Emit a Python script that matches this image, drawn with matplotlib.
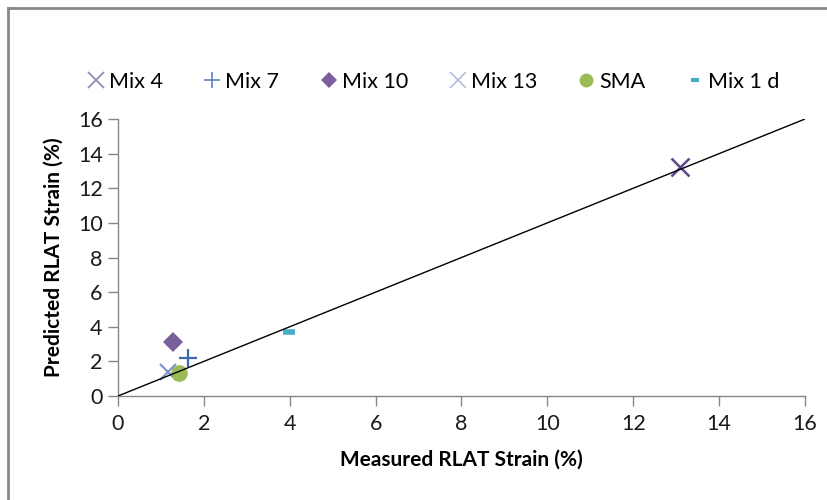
import matplotlib
matplotlib.use("Agg")
import matplotlib.pyplot as plt
from matplotlib.lines import Line2D

plt.rcParams['font.family'] = ['Lato', 'DejaVu Sans']

# Measured vs predicted RLAT strain (%) per mix
series_names = ["Mix 4", "Mix 7", "Mix 10", "Mix 13", "SMA", "Mix 1 d"]
measured = [13.1, 1.62, 1.29, 1.17, 1.42, 3.98]
predicted = [13.2, 2.2, 3.14, 1.39, 1.35, 3.72]

# Line of equality
equality_x = [0, 16]
equality_y = [0, 16]

ticks = [0, 2, 4, 6, 8, 10, 12, 14, 16]

styles = [
    dict(marker='x', color='#5E4A8A', ms=13, mew=1.8),
    dict(marker='+', color='#3A6AAE', ms=13, mew=1.6),
    dict(marker='D', color='#7B5E9C', ms=10, mew=0),
    dict(marker='x', color='#7F95D0', ms=12, mew=1.6),
    dict(marker='o', color='#9BBB59', ms=12, mew=0),
    dict(marker='_', color='#4BACC6', ms=8, mew=4),
]
legend_styles = [
    dict(marker='x', color='#8E83A8', ms=12, mew=1.2),
    dict(marker='+', color='#5B84C0', ms=12, mew=1.2),
    dict(marker='D', color='#7B5E9C', ms=8, mew=0),
    dict(marker='x', color='#AFC0E2', ms=12, mew=1.2),
    dict(marker='o', color='#9BBB59', ms=10, mew=0),
    dict(marker='_', color='#4BACC6', ms=6, mew=3),
]

fig = plt.figure(figsize=(8.28, 5.0), dpi=100)
ax = fig.add_axes([118 / 828, 104 / 500, 687 / 828, 277 / 500])

for name, x, y, st in zip(series_names, measured, predicted, styles):
    ax.plot([x], [y], linestyle='none', marker=st['marker'], color=st['color'],
            markersize=st['ms'], markeredgewidth=st['mew'], label=name, zorder=3)

ax.plot(equality_x, equality_y, color='black', linewidth=1.0, zorder=4)

ax.set_xlim(0, 16)
ax.set_ylim(0, 16)
ax.set_xticks(ticks)
ax.set_yticks(ticks)
ax.set_xticklabels([str(t) for t in ticks])
ax.set_yticklabels([str(t) for t in ticks])

for side in ('top', 'right'):
    ax.spines[side].set_visible(False)
for side in ('left', 'bottom'):
    ax.spines[side].set_color('#868686')
    ax.spines[side].set_linewidth(1.0)
ax.tick_params(axis='both', direction='out', length=7, width=1.0, color='#868686',
               labelsize=15.5, labelcolor='#1a1a1a')
ax.tick_params(axis='x', pad=6)
ax.tick_params(axis='y', pad=4)

ax.set_xlabel("Measured RLAT Strain (%)", fontsize=15, fontweight='bold', labelpad=11)
ax.set_ylabel("Predicted RLAT Strain (%)", fontsize=15, fontweight='bold', labelpad=10)

handles = [Line2D([], [], linestyle='none', marker=st['marker'], color=st['color'],
                  markersize=st['ms'], markeredgewidth=st['mew'])
           for st in legend_styles]
fig.legend(handles, series_names, loc='center', bbox_to_anchor=(0.524, 418 / 500),
           ncol=6, frameon=False, fontsize=15.5, handlelength=0.7, handletextpad=0.25,
           columnspacing=1.95)

# Outer chart border (top and left edges)
fig.add_artist(Line2D([8 / 828, 1.0], [492 / 500, 492 / 500], color='#888888',
                      linewidth=2.0, transform=fig.transFigure))
fig.add_artist(Line2D([8 / 828, 8 / 828], [0.0, 492 / 500], color='#888888',
                      linewidth=2.0, transform=fig.transFigure))

fig.savefig("out.png", dpi=100)
